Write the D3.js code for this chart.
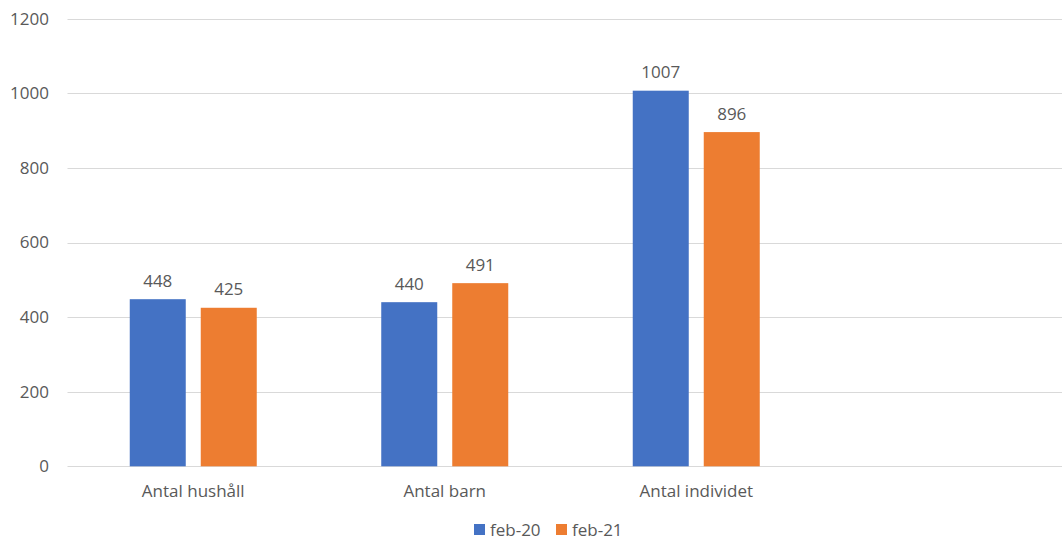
<!DOCTYPE html>
<html>
<head>
<meta charset="utf-8">
<script src="https://cdn.jsdelivr.net/npm/d3@7"></script>
<style>
  html, body { margin: 0; padding: 0; background: #fff; }
  svg { display: block; }
  text { font-family: "Open Sans", "Liberation Sans", sans-serif; fill: #595959; }
</style>
</head>
<body>
<svg id="chart" width="1062" height="541"></svg>
<script>
const categories = ["Antal hushåll", "Antal barn", "Antal individet", ""];
const seriesNames = ["feb-20", "feb-21"];
const feb20 = [448, 440, 1007, null];
const feb21 = [425, 491, 896, null];
const yTicks = [0, 200, 400, 600, 800, 1000, 1200];
const colors = ["#4472C4", "#ED7D31"];

const seriesValues = [feb20, feb21];
const svg = d3.select("#chart");
const W = 1062, H = 541;
const plotLeft = 67.5, step = 251.5;
const plotTop = 18.7, plotBottom = 466.3;
const fs = 17;

const x0 = d3.scaleBand().domain(categories).range([plotLeft, plotLeft + step * categories.length]).padding(0);
const x1 = d3.scaleBand().domain(seriesNames).range([62.25, 62.25 + 127]).paddingInner(0.2113).paddingOuter(0);
const y = d3.scaleLinear().domain([0, 1200]).range([plotBottom, plotTop]);

// gridlines
svg.append("g").selectAll("line").data(yTicks).join("line")
  .attr("x1", plotLeft).attr("x2", W)
  .attr("y1", d => Math.round(y(d)) + 0.5).attr("y2", d => Math.round(y(d)) + 0.5)
  .attr("stroke", "#D9D9D9").attr("stroke-width", 1);

// y tick labels
svg.append("g").selectAll("text").data(yTicks).join("text")
  .attr("x", 49).attr("y", d => y(d)).attr("dy", "0.35em")
  .attr("text-anchor", "end").attr("font-size", fs)
  .text(d => d);

// bars
const groups = svg.append("g").selectAll("g").data(categories).join("g")
  .attr("transform", d => `translate(${x0(d)},0)`);

groups.each(function(cat, ci) {
  const g = d3.select(this);
  seriesNames.forEach((s, si) => {
    const v = seriesValues[si][ci];
    if (v == null) return;
    g.append("rect")
      .attr("x", x1(s)).attr("width", x1.bandwidth())
      .attr("y", y(v)).attr("height", y(0) - y(v))
      .attr("fill", colors[si]);
    g.append("text")
      .attr("x", x1(s) + x1.bandwidth() / 2).attr("y", y(v) - 12.5)
      .attr("text-anchor", "middle").attr("font-size", fs)
      .text(v);
  });
});

// category labels
svg.append("g").selectAll("text").data(categories).join("text")
  .attr("x", d => x0(d) + x0.bandwidth() / 2).attr("y", 497)
  .attr("text-anchor", "middle").attr("font-size", fs)
  .text(d => d);

// legend
const legendX = [474, 556];
const leg = svg.append("g").selectAll("g").data(seriesNames).join("g")
  .attr("transform", (d, i) => `translate(${legendX[i]},524)`);
leg.append("rect").attr("width", 11).attr("height", 11).attr("fill", (d, i) => colors[i]);
leg.append("text").attr("x", 16).attr("y", 11.5).attr("font-size", fs).text(d => d);
</script>
</body>
</html>
